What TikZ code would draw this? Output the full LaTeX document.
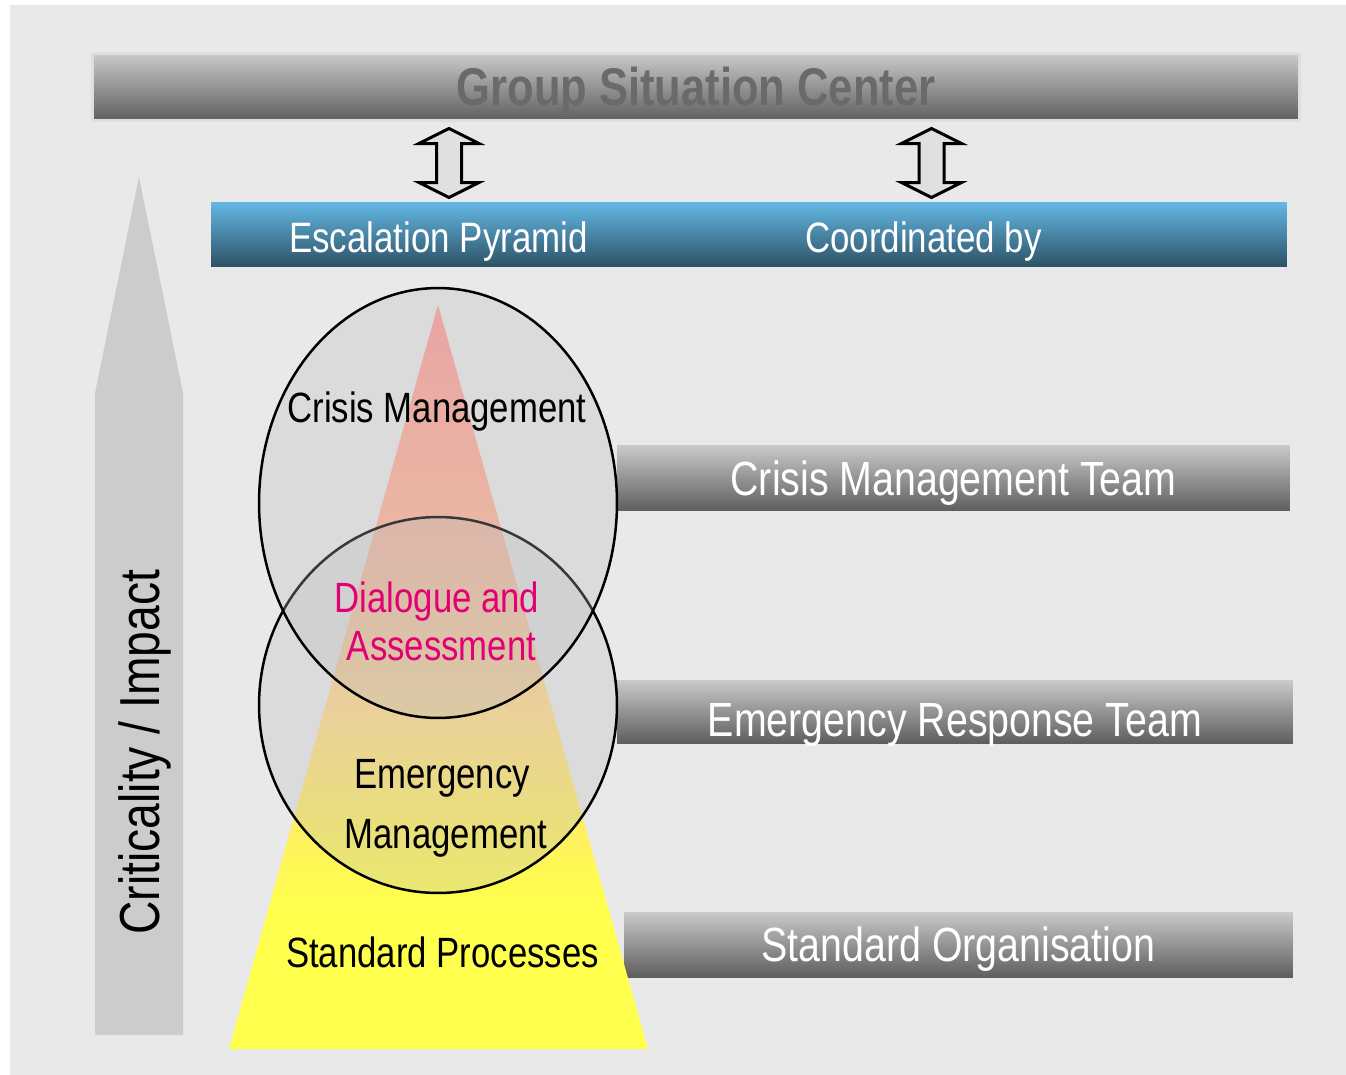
\documentclass[tikz,border=0pt]{standalone}
\usepackage{fontspec}
\newfontfamily\condfont[FakeStretch=0.82]{Liberation Sans}
\definecolor{bgcol}{HTML}{E9E9E9}
\definecolor{critgray}{HTML}{CCCCCC}
\definecolor{barlight}{HTML}{CACACA}
\definecolor{barmid}{HTML}{ABABAB}
\definecolor{bardark}{HTML}{5E5E5E}
\definecolor{gscedge}{HTML}{DEDEDE}
\definecolor{gsctext}{HTML}{6A6A6A}
\definecolor{bluelight}{HTML}{63B8E4}
\definecolor{bluemid}{HTML}{4A8FB4}
\definecolor{bluedark}{HTML}{2D5165}
\definecolor{arrowgray}{HTML}{E0E0E0}
\definecolor{pyrtop}{HTML}{FF9C9C}
\definecolor{pyrhigh}{HTML}{FFB898}
\definecolor{pyrmid}{HTML}{FFD890}
\definecolor{pyrlow}{HTML}{FFF060}
\definecolor{pyrbottom}{HTML}{FFFF4D}
\definecolor{circgray}{HTML}{BBBBBB}
\definecolor{tmagenta}{HTML}{E20074}
\pgfdeclareverticalshading{pyrshade}{100bp}{color(0bp)=(pyrbottom); color(35bp)=(pyrbottom); color(39.7bp)=(pyrlow); color(48.5bp)=(pyrmid); color(57.9bp)=(pyrhigh); color(75bp)=(pyrtop); color(100bp)=(pyrtop)}
\begin{document}
\begin{tikzpicture}[x=0.02cm, y=-0.02cm,
        graybar/.style={top color=barlight, middle color=barmid, bottom color=bardark, text=white, inner sep=0pt, text height=19.5pt, text depth=0pt, font=\condfont\fontsize{27.3}{30}\selectfont},
        bluetext/.style={text=white, inner sep=0pt, text height=17.3pt, text depth=0pt, font=\condfont\fontsize{24.2}{28}\selectfont},
        pyrtext/.style={inner sep=0pt, text height=17.3pt, text depth=0pt, font=\condfont\fontsize{24.1}{28}\selectfont}]
            \useasboundingbox (0,0) rectangle (1346,1075);
            \fill[white] (0,0) rectangle (1346,1075);
            \fill[bgcol] (10,5) rectangle (1346,1075);

            \fill[critgray] (95,1035) -- (95,393) -- (139,177) -- (183,393) -- (183,1035) -- cycle;
            \node (crit) at (139,752)[rotate=90, inner sep=0pt, text height=23pt, text depth=0pt, font=\condfont\fontsize{32.1}{36}\selectfont]{Criticality / Impact};

            \node (gsc) at (696,87)[graybar, draw=gscedge, line width=0.06cm, minimum width=24.16cm, minimum height=1.36cm, text=gsctext, text height=21.6pt, font=\condfont\bfseries\fontsize{30.2}{34}\selectfont]{Group Situation Center};

            \node (pyr) at (749,234.5)[top color=bluelight, middle color=bluemid, bottom color=bluedark, minimum width=21.52cm, minimum height=1.30cm, inner sep=0pt]{};
            \node (esc) at (438.5,237.5)[bluetext]{Escalation Pyramid};
            \node (coord) at (923.5,237.5)[bluetext]{Coordinated by};

            \foreach \x in {449, 931.5}
                \draw[fill=arrowgray, line width=0.06cm] (\x,128.5) -- (\x+30,143.5) -- (\x+12.5,143.5) -- (\x+12.5,182.5) -- (\x+30,182.5) -- (\x,197.5) -- (\x-30,182.5) -- (\x-12.5,182.5) -- (\x-12.5,143.5) -- (\x-30,143.5) -- cycle;

            \node (cmt) at (953.5,478)[graybar, minimum width=13.46cm, minimum height=1.32cm]{Crisis Management Team};
            \node (ert) at (955,711.5)[graybar, minimum width=13.52cm, minimum height=1.26cm, text height=28pt]{Emergency Response Team};
            \node (sorg) at (958.5,944.5)[graybar, minimum width=13.38cm, minimum height=1.30cm]{Standard Organisation};

            \shade[shading=pyrshade] (438,305) -- (648,1049) -- (229,1049) -- cycle;
            \draw[fill=circgray, fill opacity=0.3, line width=0.05cm] (438,705) ellipse [x radius=3.58cm, y radius=3.76cm];
            \draw[fill=circgray, fill opacity=0.3, line width=0.05cm] (438,503) ellipse [x radius=3.58cm, y radius=4.30cm];

            \node (cm) at (437,407)[pyrtext]{Crisis Management};
            \node (dlg) at (437,597)[pyrtext, text=tmagenta]{Dialogue and};
            \node (ass) at (441.5,645)[pyrtext, text=tmagenta]{Assessment};
            \node (em) at (442,773.5)[pyrtext]{Emergency};
            \node (emm) at (446,833.5)[pyrtext]{Management};
            \node (sp) at (442.5,952.5)[pyrtext]{Standard Processes};
        \end{tikzpicture}
\end{document}
